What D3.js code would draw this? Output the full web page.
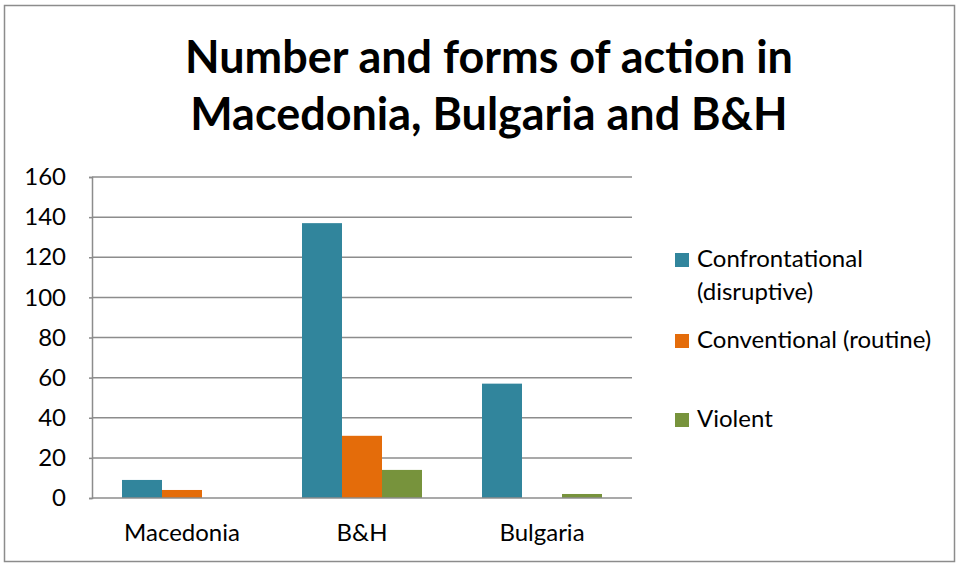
<!DOCTYPE html>
<html><head><meta charset="utf-8">
<script src="https://cdn.jsdelivr.net/npm/d3@7"></script>
<style>body{margin:0;background:#fff}svg{display:block}text{font-family:Lato,"Open Sans",sans-serif}</style>
</head><body>
<script>
const categories = ["Macedonia", "B&H", "Bulgaria"];
const seriesNames = ["Confrontational (disruptive)", "Conventional (routine)", "Violent"];
const confrontational = [9, 137, 57];
const conventional = [4, 31, 0];
const violent = [0, 14, 2];
const yTicks = [0, 20, 40, 60, 80, 100, 120, 140, 160];
const colors = ["#31859C", "#E46C0A", "#77933C"];
const titleLines = ["Number and forms of action in", "Macedonia, Bulgaria and B&H"];

const W = 958, H = 565;
const svg = d3.select("body").append("svg").attr("width", W).attr("height", H);
svg.append("rect").attr("x", 4.5).attr("y", 5.5).attr("width", 950).attr("height", 556)
  .attr("fill", "#fff").attr("stroke", "#8c8c8c").attr("stroke-width", 1.5);

const plot = {l: 92, r: 632, t: 177, b: 498};
const y = d3.scaleLinear().domain([0, 160]).range([plot.b, plot.t]);
const x0 = d3.scaleBand().domain(categories).range([plot.l, plot.r]).paddingInner(1/3).paddingOuter(1/6);
const series = [confrontational, conventional, violent];
const x1 = d3.scaleBand().domain(d3.range(series.length)).range([0, x0.bandwidth()]);

// gridlines
svg.append("g").selectAll("line").data(yTicks.filter(d => d > 0)).join("line")
  .attr("x1", plot.l).attr("x2", plot.r).attr("y1", d => y(d)).attr("y2", d => y(d))
  .attr("stroke", "#8c8c8c").attr("stroke-width", 1.5);

// y axis
const yAxis = svg.append("g").attr("transform", `translate(${plot.l},0)`)
  .call(d3.axisLeft(y).tickValues(yTicks).tickSize(3).tickPadding(23));
yAxis.select(".domain").attr("stroke", "#8c8c8c").attr("stroke-width", 1.5);
yAxis.selectAll(".tick line").attr("stroke", "#8c8c8c").attr("stroke-width", 1.5);
yAxis.selectAll(".tick text").attr("font-size", 24).attr("fill", "#000").attr("font-family", "Lato");

// bars
series.forEach((vals, si) => {
  svg.append("g").selectAll("rect").data(vals).join("rect")
    .attr("x", (d, i) => x0(categories[i]) + x1(si))
    .attr("y", d => y(d))
    .attr("width", x1.bandwidth())
    .attr("height", d => plot.b - y(d))
    .attr("fill", colors[si]);
});

// x axis
svg.append("line").attr("x1", plot.l).attr("x2", plot.r).attr("y1", plot.b).attr("y2", plot.b)
  .attr("stroke", "#8c8c8c").attr("stroke-width", 1.5);
svg.append("g").selectAll("text").data(categories).join("text")
  .attr("x", d => x0(d) + x0.bandwidth() / 2).attr("y", 541)
  .attr("text-anchor", "middle").attr("font-size", 24).text(d => d);

// title
const tBase = [73, 130];
let fs = 40;
titleLines.forEach((t, i) => {
  const el = svg.append("text").attr("x", 489).attr("y", tBase[i]).attr("text-anchor", "middle")
    .attr("font-weight", "bold").attr("font-size", 40).text(t);
  if (i === 0) fs = 40 * 608 / el.node().getComputedTextLength();
  el.attr("font-size", fs);
});

// legend
const legend = [
  {lines: ["Confrontational", "(disruptive)"], y: 267, c: colors[0]},
  {lines: ["Conventional (routine)"], y: 348, c: colors[1]},
  {lines: ["Violent"], y: 427, c: colors[2]}
];
const lg = svg.append("g");
legend.forEach(d => {
  lg.append("rect").attr("x", 675).attr("y", d.y - 14).attr("width", 14).attr("height", 14).attr("fill", d.c);
  d.lines.forEach((l, j) => lg.append("text").attr("x", 697).attr("y", d.y + j * 33)
    .attr("font-size", 24).text(l));
});
</script>
</body></html>
